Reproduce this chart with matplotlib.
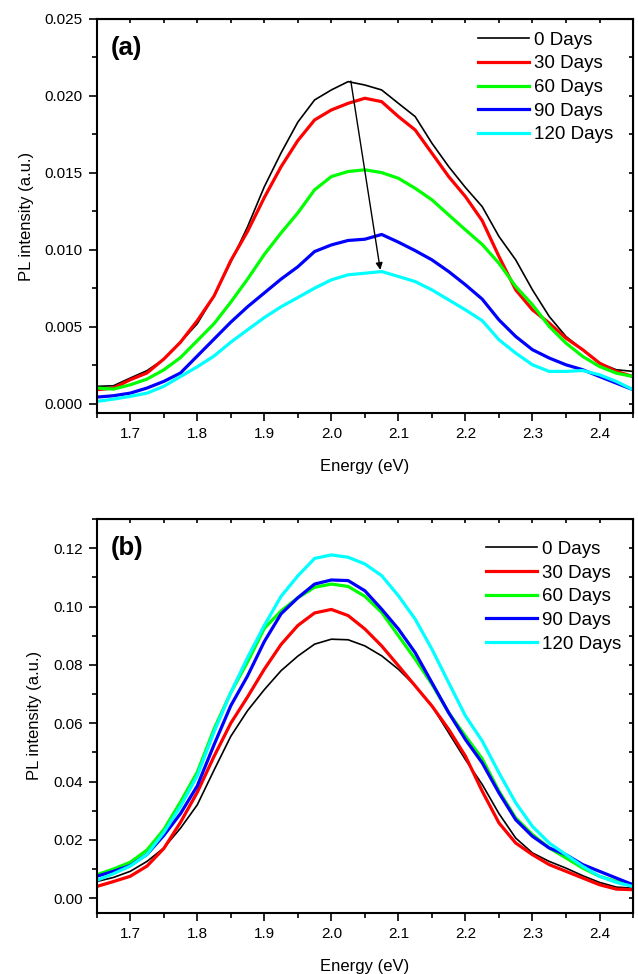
import matplotlib
matplotlib.use("Agg")
import matplotlib.pyplot as plt
from matplotlib.ticker import MultipleLocator, FormatStrFormatter

plt.rcParams['font.family'] = ['Liberation Sans', 'DejaVu Sans']

# -------------------------------
# Data
# -------------------------------
energy = [1.650, 1.675, 1.700, 1.725, 1.750, 1.775, 1.800, 1.825, 1.850, 1.875,
          1.900, 1.925, 1.950, 1.975, 2.000, 2.025, 2.050, 2.075, 2.100, 2.125,
          2.150, 2.175, 2.200, 2.225, 2.250, 2.275, 2.300, 2.325, 2.350, 2.375,
          2.400, 2.425, 2.450]

labels = ['0 Days', '30 Days', '60 Days', '90 Days', '120 Days']
colors = ['#000000', '#ff0000', '#00ff00', '#0000ff', '#00ffff']
widths = [1.2, 2.3, 2.3, 2.3, 2.3]

# panel (a)
a_0d = [0.00113, 0.00117, 0.00167, 0.00215, 0.00290, 0.00400, 0.00520, 0.00700, 0.00920, 0.01150,
        0.01410, 0.01630, 0.01830, 0.01974, 0.02039, 0.02093, 0.02071, 0.02039, 0.01952, 0.01866,
        0.01693, 0.01541, 0.01405, 0.01281, 0.01087, 0.00935, 0.00740, 0.00567, 0.00437, 0.00351,
        0.00264, 0.00221, 0.00210]
a_30d = [0.00091, 0.00102, 0.00156, 0.00200, 0.00290, 0.00400, 0.00540, 0.00700, 0.00930, 0.01120,
         0.01340, 0.01540, 0.01710, 0.01844, 0.01909, 0.01952, 0.01985, 0.01963, 0.01866, 0.01779,
         0.01628, 0.01476, 0.01346, 0.01190, 0.00957, 0.00740, 0.00610, 0.00524, 0.00426, 0.00351,
         0.00264, 0.00210, 0.00177]
a_60d = [0.00102, 0.00095, 0.00123, 0.00160, 0.00220, 0.00300, 0.00410, 0.00520, 0.00660, 0.00810,
         0.00970, 0.01110, 0.01240, 0.01390, 0.01476, 0.01509, 0.01520, 0.01502, 0.01465, 0.01400,
         0.01325, 0.01227, 0.01130, 0.01035, 0.00913, 0.00762, 0.00643, 0.00502, 0.00394, 0.00307,
         0.00242, 0.00199, 0.00177]
a_90d = [0.00043, 0.00052, 0.00069, 0.00102, 0.00145, 0.00200, 0.00310, 0.00420, 0.00530, 0.00630,
         0.00720, 0.00810, 0.00890, 0.00989, 0.01032, 0.01061, 0.01069, 0.01100, 0.01050, 0.00995,
         0.00935, 0.00859, 0.00773, 0.00680, 0.00545, 0.00437, 0.00351, 0.00297, 0.00253, 0.00221,
         0.00177, 0.00134, 0.00091]
a_120d = [0.00015, 0.00030, 0.00048, 0.00069, 0.00113, 0.00177, 0.00240, 0.00310, 0.00400, 0.00480,
          0.00560, 0.00630, 0.00690, 0.00751, 0.00805, 0.00838, 0.00848, 0.00859, 0.00827, 0.00794,
          0.00740, 0.00675, 0.00610, 0.00540, 0.00416, 0.00329, 0.00253, 0.00210, 0.00210, 0.00216,
          0.00188, 0.00145, 0.00091]

# arrow in panel (a): peak of 0 Days -> peak of 120 Days
arrow_start = (2.029, 0.02097)
arrow_end = (2.073, 0.0087)

# panel (b)
b_0d = [0.0057, 0.0071, 0.0092, 0.0126, 0.0172, 0.0240, 0.0320, 0.0439, 0.0555, 0.0643,
        0.0715, 0.0780, 0.0830, 0.0871, 0.0888, 0.0886, 0.0865, 0.0831, 0.0785, 0.0728,
        0.0659, 0.0567, 0.0475, 0.0390, 0.0290, 0.0206, 0.0155, 0.0126, 0.0103, 0.0077,
        0.0054, 0.0038, 0.0034]
b_30d = [0.0040, 0.0057, 0.0075, 0.0110, 0.0170, 0.0260, 0.0363, 0.0486, 0.0600, 0.0690,
         0.0785, 0.0870, 0.0935, 0.0978, 0.0990, 0.0969, 0.0923, 0.0865, 0.0797, 0.0728,
         0.0659, 0.0579, 0.0487, 0.0367, 0.0258, 0.0189, 0.0149, 0.0115, 0.0092, 0.0069,
         0.0046, 0.0031, 0.0029]
b_60d = [0.0080, 0.0100, 0.0123, 0.0165, 0.0235, 0.0330, 0.0432, 0.0580, 0.0705, 0.0810,
         0.0925, 0.0985, 0.1030, 0.1066, 0.1077, 0.1069, 0.1035, 0.0980, 0.0900, 0.0820,
         0.0734, 0.0636, 0.0556, 0.0478, 0.0367, 0.0275, 0.0218, 0.0172, 0.0138, 0.0103,
         0.0075, 0.0057, 0.0042]
b_90d = [0.0075, 0.0092, 0.0112, 0.0150, 0.0215, 0.0290, 0.0385, 0.0526, 0.0660, 0.0762,
         0.0880, 0.0975, 0.1030, 0.1077, 0.1091, 0.1089, 0.1054, 0.0991, 0.0923, 0.0842,
         0.0739, 0.0636, 0.0544, 0.0464, 0.0361, 0.0269, 0.0212, 0.0172, 0.0149, 0.0115,
         0.0092, 0.0069, 0.0046]
b_120d = [0.0061, 0.0084, 0.0110, 0.0150, 0.0225, 0.0315, 0.0420, 0.0570, 0.0705, 0.0825,
          0.0935, 0.1035, 0.1105, 0.1165, 0.1177, 0.1169, 0.1146, 0.1106, 0.1037, 0.0957,
          0.0854, 0.0739, 0.0625, 0.0539, 0.0430, 0.0327, 0.0246, 0.0189, 0.0149, 0.0109,
          0.0075, 0.0054, 0.0040]

series_a = [a_0d, a_30d, a_60d, a_90d, a_120d]
series_b = [b_0d, b_30d, b_60d, b_90d, b_120d]


# -------------------------------
# Axis styling (Origin look)
# -------------------------------
def style_axis(ax, ymin, ymax, ymajor, yfmt):
    ax.set_xlim(1.65, 2.45)
    ax.set_ylim(ymin, ymax)
    ax.xaxis.set_major_locator(MultipleLocator(0.1))
    ax.xaxis.set_minor_locator(MultipleLocator(0.05))
    ax.yaxis.set_major_locator(MultipleLocator(ymajor))
    ax.yaxis.set_minor_locator(MultipleLocator(ymajor / 2))
    ax.xaxis.set_major_formatter(FormatStrFormatter('%.1f'))
    ax.yaxis.set_major_formatter(FormatStrFormatter(yfmt))
    ax.tick_params(which='major', direction='out', length=6, width=1.2,
                   labelsize=11, pad=4)
    ax.tick_params(which='minor', direction='out', length=3.5, width=1.2)
    for s in ax.spines.values():
        s.set_linewidth(1.5)

    # inward ticks on top and right
    top = ax.secondary_xaxis('top')
    top.xaxis.set_major_locator(MultipleLocator(0.05))
    top.tick_params(direction='in', length=3, width=1.2, labeltop=False)
    right = ax.secondary_yaxis('right')
    right.yaxis.set_major_locator(MultipleLocator(ymajor / 2))
    right.tick_params(direction='in', length=3, width=1.2, labelright=False)

    ax.set_xlabel('Energy (eV)', fontsize=12, labelpad=13)
    ax.set_ylabel('PL intensity (a.u.)', fontsize=12, labelpad=8)


fig = plt.figure(figsize=(6.38, 9.74), dpi=100)
ax_a = fig.add_axes([0.1516, 0.576, 0.8406, 0.4045])
ax_b = fig.add_axes([0.1516, 0.0629, 0.8406, 0.4042])

# -------------------------------
# Panel (a)
# -------------------------------
for y, lab, c, w in zip(series_a, labels, colors, widths):
    ax_a.plot(energy, y, color=c, lw=w, label=lab)
ax_a.annotate('', xy=arrow_end, xytext=arrow_start,
              arrowprops=dict(arrowstyle='-|>', color='black', lw=1.0,
                              mutation_scale=10, shrinkA=0, shrinkB=0))
style_axis(ax_a, -0.0006, 0.025, 0.005, '%.3f')
ax_a.text(0.027, 0.926, '(a)', transform=ax_a.transAxes, fontsize=18.5,
          fontweight='bold', va='center', ha='left')
ax_a.legend(loc='upper left', bbox_to_anchor=(0.711, 0.968), frameon=False,
            fontsize=13.5, handlelength=2.7, handletextpad=0.3,
            labelspacing=0.35, borderpad=0, borderaxespad=0)

# -------------------------------
# Panel (b)
# -------------------------------
for y, lab, c, w in zip(series_b, labels, colors, widths):
    ax_b.plot(energy, y, color=c, lw=w, label=lab)
style_axis(ax_b, -0.005, 0.13, 0.02, '%.2f')
ax_b.text(0.027, 0.926, '(b)', transform=ax_b.transAxes, fontsize=18.5,
          fontweight='bold', va='center', ha='left')
ax_b.legend(loc='upper left', bbox_to_anchor=(0.726, 0.945), frameon=False,
            fontsize=13.5, handlelength=2.7, handletextpad=0.3,
            labelspacing=0.35, borderpad=0, borderaxespad=0)

fig.savefig('out.png', dpi=100)
